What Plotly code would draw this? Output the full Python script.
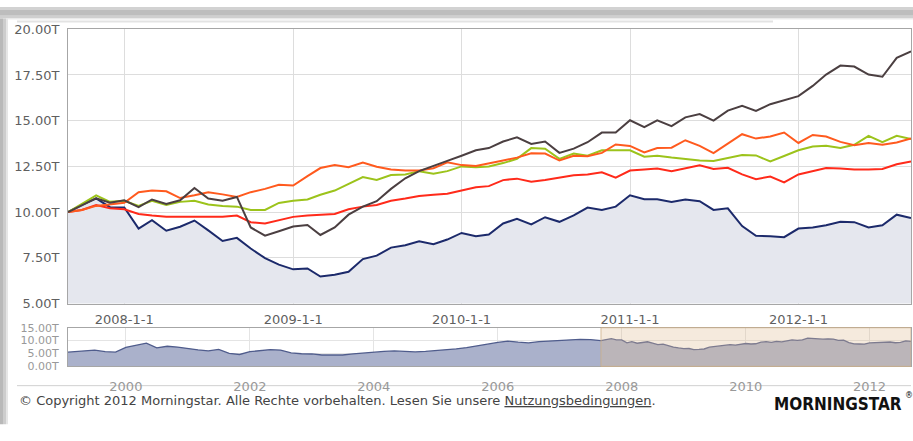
import pandas as pd
import plotly.graph_objects as go

# ---------------- data ----------------
months = pd.date_range("2007-09-01", periods=61, freq="MS")

fund_navy = [10.0, 10.4, 10.75, 10.27, 10.25, 9.1, 9.56, 8.98, 9.2, 9.54,
             9.0, 8.42, 8.59, 8.01, 7.48, 7.13, 6.87, 6.92, 6.48, 6.57,
             6.74, 7.43, 7.62, 8.06, 8.19, 8.4, 8.24, 8.5, 8.86, 8.68,
             8.77, 9.38, 9.63, 9.33, 9.72, 9.47, 9.82, 10.25, 10.12, 10.3,
             10.92, 10.7, 10.7, 10.56, 10.69, 10.6, 10.12, 10.21, 9.24, 8.71,
             8.68, 8.63, 9.1, 9.16, 9.28, 9.47, 9.45, 9.16, 9.28, 9.86, 9.68]

series_dark = [10.0, 10.35, 10.75, 10.51, 10.65, 10.27, 10.69, 10.44, 10.65, 11.32,
               10.74, 10.62, 10.83, 9.16, 8.71, 8.95, 9.21, 9.3, 8.75, 9.16,
               9.86, 10.3, 10.6, 11.27, 11.85, 12.24, 12.54, 12.8, 13.08, 13.38,
               13.5, 13.86, 14.09, 13.73, 13.86, 13.24, 13.47, 13.82, 14.35, 14.35,
               15.02, 14.65, 15.02, 14.7, 15.18, 15.36, 15.0, 15.55, 15.81, 15.53,
               15.9, 16.11, 16.34, 16.9, 17.52, 18.01, 17.96, 17.52, 17.4, 18.43, 18.79]

series_orange = [10.0, 10.12, 10.34, 10.44, 10.51, 11.09, 11.18, 11.14, 10.77, 10.92,
                 11.09, 10.97, 10.83, 11.09, 11.27, 11.5, 11.45, 11.97, 12.41, 12.57,
                 12.45, 12.71, 12.48, 12.33, 12.27, 12.27, 12.4, 12.72, 12.57, 12.52,
                 12.68, 12.82, 12.98, 13.22, 13.2, 12.82, 13.08, 13.05, 13.24, 13.7,
                 13.62, 13.26, 13.5, 13.52, 13.93, 13.62, 13.23, 13.76, 14.26, 14.02,
                 14.14, 14.35, 13.78, 14.22, 14.13, 13.84, 13.66, 13.78, 13.69, 13.81, 14.03]

series_green = [10.0, 10.44, 10.92, 10.56, 10.62, 10.34, 10.62, 10.39, 10.56, 10.62,
                10.42, 10.34, 10.3, 10.12, 10.12, 10.5, 10.62, 10.69, 10.95, 11.18,
                11.53, 11.92, 11.76, 12.03, 12.06, 12.24, 12.1, 12.24, 12.5, 12.45,
                12.5, 12.68, 12.91, 13.5, 13.47, 12.91, 13.2, 13.08, 13.38, 13.38,
                13.38, 13.03, 13.08, 12.98, 12.89, 12.82, 12.8, 12.98, 13.12, 13.1,
                12.77, 13.07, 13.38, 13.59, 13.63, 13.5, 13.68, 14.17, 13.82, 14.17, 14.0]

series_red = [10.0, 10.12, 10.39, 10.21, 10.16, 9.9, 9.81, 9.74, 9.74, 9.74,
              9.74, 9.74, 9.81, 9.45, 9.38, 9.55, 9.74, 9.81, 9.86, 9.9,
              10.16, 10.3, 10.39, 10.62, 10.74, 10.88, 10.95, 11.0, 11.18, 11.36,
              11.42, 11.75, 11.83, 11.66, 11.75, 11.88, 12.01, 12.06, 12.18, 11.88,
              12.27, 12.33, 12.38, 12.24, 12.38, 12.56, 12.36, 12.42, 12.06, 11.8,
              11.94, 11.62, 12.06, 12.24, 12.41, 12.38, 12.33, 12.33, 12.36, 12.62, 12.77]

# navigator history before the main window (bi-monthly readings)
nav_early_dates = pd.date_range("1999-01-01", "2007-07-01", freq="2MS")
nav_early_values = [5.4, 5.6, 6.0, 6.3, 5.7, 5.5,
                    7.4, 8.3, 9.0, 7.2, 7.8, 7.5,
                    6.8, 6.4, 6.0, 6.6, 5.0, 4.6,
                    5.7, 6.2, 6.5, 6.3, 5.2, 4.9,
                    4.8, 4.4, 4.3, 4.4, 4.8, 5.2,
                    5.5, 5.8, 6.0, 5.7, 5.6, 5.8,
                    6.1, 6.5, 6.8, 7.3, 8.1, 8.6,
                    9.3, 9.8, 9.4, 9.1, 9.6, 9.9,
                    10.1, 10.4, 10.5, 10.4]

main_ticks = ["2008-01-01", "2009-01-01", "2010-01-01", "2011-01-01", "2012-01-01"]
main_ticktext = ["2008-1-1", "2009-1-1", "2010-1-1", "2011-1-1", "2012-1-1"]
y_ticks = [5, 7.5, 10, 12.5, 15, 17.5, 20]
y_ticktext = ["5.00T", "7.50T", "10.00T", "12.50T", "15.00T", "17.50T", "20.00T"]
nav_ticks = ["2000-01-01", "2002-01-01", "2004-01-01", "2006-01-01", "2008-01-01",
             "2010-01-01", "2012-01-01"]
nav_ticktext = ["2000", "2002", "2004", "2006", "2008", "2010", "2012"]
nav_yticks = [0, 5, 10, 15]
nav_yticktext = ["0.00T", "5.00T", "10.00T", "15.00T"]

# ---------------- figure ----------------
W, H = 913, 441
FONT = "DejaVu Sans, Verdana, sans-serif"

def px(x):
    return x / W

def py(y):
    return 1 - y / H

fig = go.Figure()

fig.add_trace(go.Scatter(x=months, y=fund_navy, mode="lines", fill="tozeroy",
                         fillcolor="#e5e7ee", line=dict(color="#1c2a6b", width=2),
                         xaxis="x", yaxis="y", hoverinfo="skip"))
for vals, col in [(series_red, "#ff2a1a"), (series_green, "#9cc31b"),
                  (series_orange, "#ff5a1e"), (series_dark, "#4b3f41")]:
    fig.add_trace(go.Scatter(x=months, y=vals, mode="lines",
                             line=dict(color=col, width=2),
                             xaxis="x", yaxis="y", hoverinfo="skip"))

nav_x = list(nav_early_dates) + list(months)
nav_y = nav_early_values + fund_navy
fig.add_trace(go.Scatter(x=nav_x, y=nav_y, mode="lines", fill="tozeroy",
                         fillcolor="#aab1cb", line=dict(color="#4f5c8c", width=1.3),
                         xaxis="x2", yaxis="y2", hoverinfo="skip"))

shapes = []
# frame: top band and left shadow
for (y0, y1, c) in [(0, 3, "#d2d2d2"), (3, 9, "#bdbdbd"), (9, 12, "#cfcfcf"), (12, 13, "#ececec")]:
    shapes.append(dict(type="rect", xref="paper", yref="paper", x0=0, x1=1,
                       y0=py(y1), y1=py(y0), fillcolor=c, line=dict(width=0), layer="below"))
for (x0, x1, c) in [(0, 3, "#b9b9b9"), (3, 6, "#cdcdcd"), (6, 8, "#e6e6e6")]:
    shapes.append(dict(type="rect", xref="paper", yref="paper", x0=px(x0), x1=px(x1),
                       y0=py(432), y1=py(12), fillcolor=c, line=dict(width=0), layer="below"))
shapes.append(dict(type="line", xref="paper", yref="paper", x0=px(17), x1=px(773),
                   y0=py(15), y1=py(15), line=dict(color="#e3e3e3", width=2), layer="below"))
shapes.append(dict(type="line", xref="paper", yref="paper", x0=px(17), x1=px(911),
                   y0=py(392), y1=py(392), line=dict(color="#d0d0d0", width=1), layer="below"))
# navigator selection window
shapes.append(dict(type="rect", xref="x2", yref="y2 domain", x0=months[0], x1=months[-1],
                   y0=0, y1=1, fillcolor="rgba(225,190,150,0.32)",
                   line=dict(color="rgba(205,175,135,0.8)", width=1), layer="above"))

axis_common = dict(showline=True, linecolor="#a6a6a6", linewidth=1, mirror=True,
                   zeroline=False, ticks="", fixedrange=True)

fig.update_layout(
    width=W, height=H,
    margin=dict(l=0, r=0, t=0, b=0),
    paper_bgcolor="white", plot_bgcolor="white",
    showlegend=False,
    font=dict(family=FONT, size=13, color="#666666"),
    xaxis=dict(domain=[px(68), px(911)], anchor="y", type="date",
               range=[months[0], months[-1]],
               tickvals=main_ticks, ticktext=main_ticktext,
               tickfont=dict(size=13, color="#5f5f5f"),
               showgrid=True, gridcolor="#dddddd", ticklabelstandoff=4, **axis_common),
    yaxis=dict(domain=[py(307), py(23)], anchor="x", range=[5, 20],
               tickvals=y_ticks, ticktext=y_ticktext,
               tickfont=dict(size=13, color="#5f5f5f"),
               showgrid=True, gridcolor="#dddddd", ticklabelstandoff=5, **axis_common),
    xaxis2=dict(domain=[px(68), px(911)], anchor="y2", type="date",
                range=["1999-01-25", months[-1]],
                tickvals=nav_ticks, ticktext=nav_ticktext,
                tickfont=dict(size=13, color="#999999"),
                showgrid=True, gridcolor="#e4e4e4", ticklabelstandoff=8, **axis_common),
    yaxis2=dict(domain=[py(372), py(332)], anchor="x2", range=[0, 15],
                tickvals=nav_yticks, ticktext=nav_yticktext,
                tickfont=dict(size=11, color="#999999"),
                showgrid=True, gridcolor="#e4e4e4", ticklabelstandoff=6, **axis_common),
    shapes=shapes,
    annotations=[
        dict(xref="paper", yref="paper", x=px(17), y=py(407), xanchor="left", yanchor="middle",
             showarrow=False,
             text="© Copyright 2012 Morningstar. Alle Rechte vorbehalten. Lesen Sie unsere "
                  "<span style='text-decoration:underline'>Nutzungsbedingungen</span>.",
             font=dict(family=FONT, size=13, color="#444444")),
        dict(xref="paper", yref="paper", x=px(904), y=py(411), xanchor="right", yanchor="middle",
             showarrow=False, text="<b>MORNINGSTAR</b>",
             font=dict(family="DejaVu Sans Condensed, Liberation Sans Narrow, sans-serif",
                       size=17, color="#111111")),
        dict(xref="paper", yref="paper", x=px(903), y=py(402), xanchor="left", yanchor="middle",
             showarrow=False, text="®",
             font=dict(family=FONT, size=8, color="#111111")),
    ],
)

fig.write_html("out.html")
